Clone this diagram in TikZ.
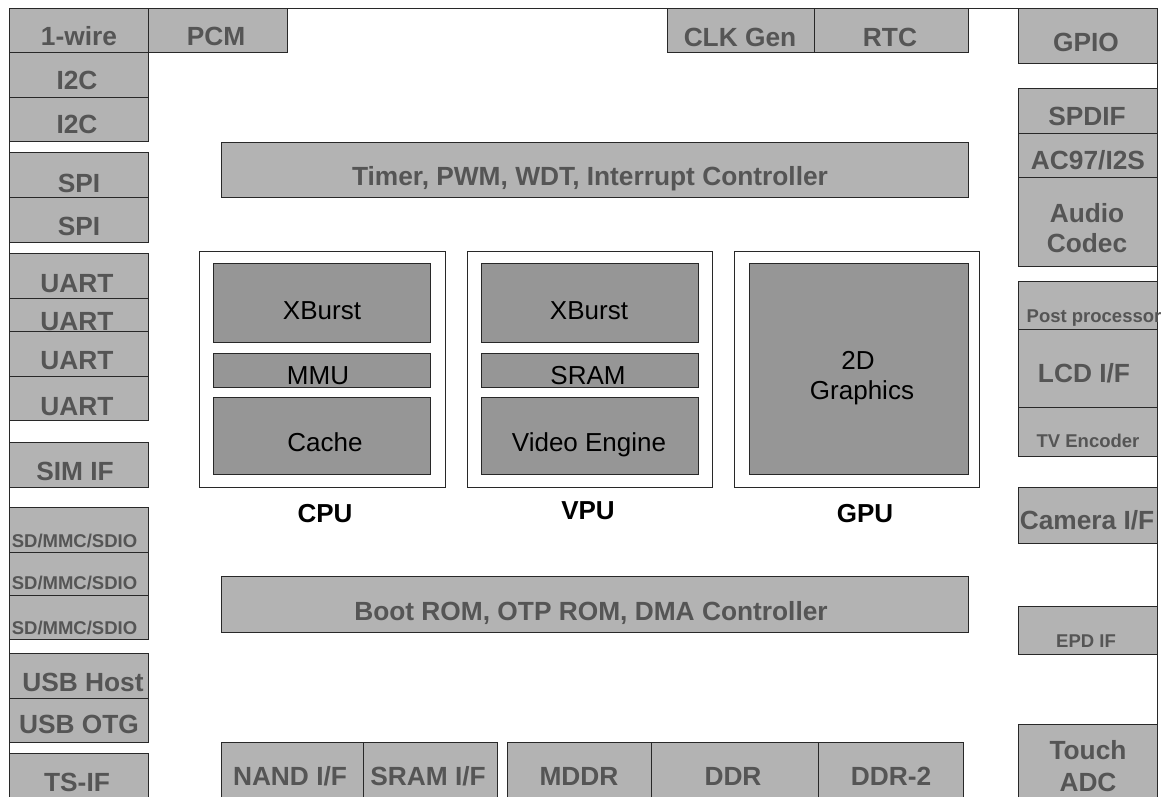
\documentclass[tikz,border=0pt]{standalone}
\usepackage{fontspec}
\setmainfont{Liberation Sans}
\definecolor{boxgray}{RGB}{179,179,179}
\definecolor{coregray}{RGB}{150,150,150}
\definecolor{txtgray}{RGB}{85,85,85}
\definecolor{edgegray}{RGB}{40,40,40}

\begin{document}
\begin{tikzpicture}[x=1pt, y=-1pt,
    blk/.style={draw=edgegray, fill=boxgray, line width=1pt},
    core/.style={draw=edgegray, fill=coregray, line width=1pt},
    unitframe/.style={draw=edgegray, fill=white, line width=1pt},
    big/.style={font=\fontsize{26.3}{30}\selectfont\bfseries, text=txtgray, anchor=base, inner sep=0pt},
    small/.style={font=\fontsize{18.5}{22}\selectfont\bfseries, text=txtgray, anchor=base, inner sep=0pt},
    coretext/.style={font=\fontsize{26}{30}\selectfont, anchor=base, inner sep=0pt},
    unitname/.style={font=\fontsize{26}{30}\selectfont\bfseries, anchor=base, inner sep=0pt}]

    \useasboundingbox (0,0) rectangle (1168,796);
    \clip (0,0) rectangle (1168,796);

    % Chip outline (bottom edge runs off the page)
    \draw[edgegray, line width=1pt] (9,820) -- (9,8) -- (1157,8) -- (1157,820);

    % Top row, left
    \draw[blk] (9,8) rectangle (148,52);
    \node[big] (wire) at (79,45) {1-wire};
    \draw[blk] (148,8) rectangle (287,52);
    \node[big] (pcm) at (216,45) {PCM};

    % Left column
    \draw[blk] (9,52) rectangle (148,97);
    \node[big] (iica) at (77,89) {I2C};
    \draw[blk] (9,97) rectangle (148,141);
    \node[big] (iicb) at (77,133) {I2C};

    \draw[blk] (9,152) rectangle (148,197);
    \node[big] (spia) at (79,192) {SPI};
    \draw[blk] (9,197) rectangle (148,242);
    \node[big] (spib) at (79,235) {SPI};

    \draw[blk] (9,253) rectangle (148,298);
    \node[big] (uarta) at (77,292) {UART};
    \draw[blk] (9,298) rectangle (148,331);
    \node[big] (uartb) at (77,330) {UART};
    \draw[blk] (9,331) rectangle (148,376);
    \node[big] (uartc) at (77,369) {UART};
    \draw[blk] (9,376) rectangle (148,420);
    \node[big] (uartd) at (77,415) {UART};

    \draw[blk] (9,442) rectangle (148,487);
    \node[big] (sim) at (75,480) {SIM IF};

    \draw[blk] (9,507) rectangle (148,552);
    \node[small] (sda) at (74.5,547) {SD/MMC/SDIO};
    \draw[blk] (9,552) rectangle (148,595);
    \node[small] (sdb) at (74.5,589) {SD/MMC/SDIO};
    \draw[blk] (9,595) rectangle (148,639);
    \node[small] (sdc) at (74.5,634) {SD/MMC/SDIO};

    \draw[blk] (9,653) rectangle (148,698);
    \node[big] (usbh) at (83,691) {USB Host};
    \draw[blk] (9,698) rectangle (148,742);
    \node[big] (usbo) at (79,733) {USB OTG};

    \draw[blk] (9,753) rectangle (148,810);
    \node[big] (tsif) at (77,791) {TS-IF};

    % Top row, right
    \draw[blk] (667,8) rectangle (814,52);
    \node[big] (clk) at (740,46) {CLK Gen};
    \draw[blk] (814,8) rectangle (968,52);
    \node[big] (rtc) at (890,46) {RTC};

    % Right column
    \draw[blk] (1018,8) rectangle (1157,63);
    \node[big] (gpio) at (1086,51) {GPIO};

    \draw[blk] (1018,88) rectangle (1157,133);
    \node[big] (spdif) at (1087,125) {SPDIF};
    \draw[blk] (1018,133) rectangle (1157,177);
    \node[big] (ac97) at (1088,169) {AC97/I2S};
    \draw[blk] (1018,177) rectangle (1157,266);
    \node[big] (audio) at (1087,222) {Audio};
    \node[big] (codec) at (1087,252) {Codec};

    \draw[blk] (1018,281) rectangle (1157,329);
    \node[small] (post) at (1094,322) {Post processor};
    \draw[blk] (1018,329) rectangle (1157,407);
    \node[big] (lcd) at (1084,382) {LCD I/F};
    \draw[blk] (1018,407) rectangle (1157,456);
    \node[small] (tv) at (1088,447) {TV Encoder};

    \draw[blk] (1018,487) rectangle (1157,543);
    \node[big] (cam) at (1087,529) {Camera I/F};

    \draw[blk] (1018,606) rectangle (1157,654);
    \node[small] (epd) at (1086,647) {EPD IF};

    \draw[blk] (1018,724) rectangle (1157,810);
    \node[big] (touch) at (1088,759) {Touch};
    \node[big] (adc) at (1088,791) {ADC};

    % Shared buses
    \draw[blk] (221,142) rectangle (968,197);
    \node[big] (timer) at (590,185) {Timer, PWM, WDT, Interrupt Controller};
    \draw[blk] (221,576) rectangle (968,632);
    \node[big] (boot) at (591,620) {Boot ROM, OTP ROM, DMA Controller};

    % CPU
    \draw[unitframe] (199,251) rectangle (445,487);
    \draw[core] (213,263) rectangle (430,342);
    \node[coretext] (cpuxb) at (322,319) {XBurst};
    \draw[core] (213,353) rectangle (430,387);
    \node[coretext] (mmu) at (318,384) {MMU};
    \draw[core] (213,397) rectangle (430,474);
    \node[coretext] (cache) at (325,451) {Cache};
    \node[unitname] (cpu) at (325,522) {CPU};

    % VPU
    \draw[unitframe] (467,251) rectangle (712,487);
    \draw[core] (481,263) rectangle (698,342);
    \node[coretext] (vpuxb) at (589,319) {XBurst};
    \draw[core] (481,353) rectangle (698,387);
    \node[coretext] (sram) at (588,384) {SRAM};
    \draw[core] (481,397) rectangle (698,474);
    \node[coretext] (video) at (589,451) {Video Engine};
    \node[unitname] (vpu) at (588,519) {VPU};

    % GPU
    \draw[unitframe] (734,251) rectangle (979,487);
    \draw[core] (749,263) rectangle (968,474);
    \node[coretext] (twod) at (858,369) {2D};
    \node[coretext] (graph) at (862,399) {Graphics};
    \node[unitname] (gpu) at (865,522) {GPU};

    % Memory interfaces
    \draw[blk] (221,742) rectangle (363,810);
    \node[big] (nand) at (290,785) {NAND I/F};
    \draw[blk] (363,742) rectangle (497,810);
    \node[big] (sramif) at (428,785) {SRAM I/F};
    \draw[blk] (507,742) rectangle (651,810);
    \node[big] (mddr) at (579,785) {MDDR};
    \draw[blk] (651,742) rectangle (818,810);
    \node[big] (ddr) at (733,785) {DDR};
    \draw[blk] (818,742) rectangle (963,810);
    \node[big] (ddrtwo) at (891,785) {DDR-2};
\end{tikzpicture}
\end{document}
